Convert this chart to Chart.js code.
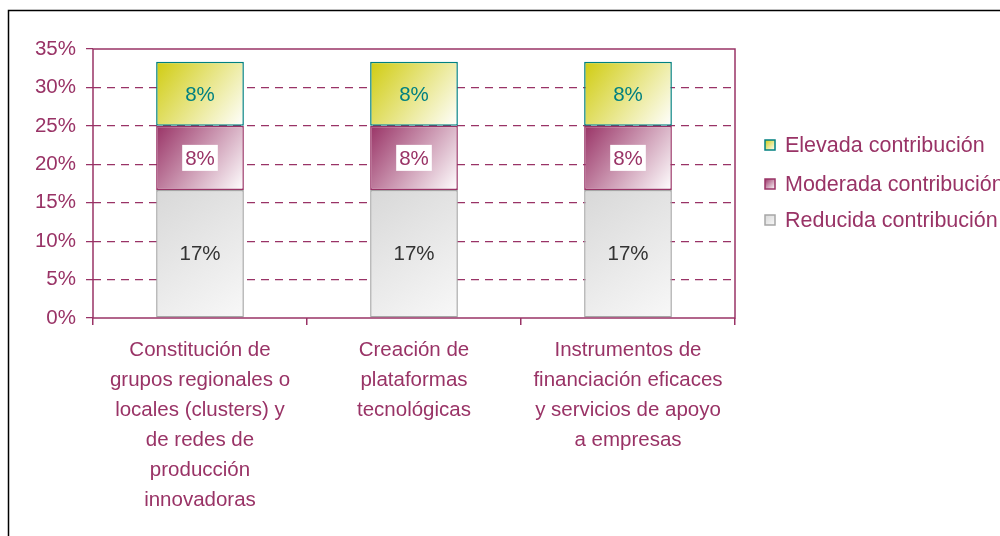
<!DOCTYPE html>
<html>
<head>
<meta charset="utf-8">
<script src="https://cdn.jsdelivr.net/npm/chart.js@4/dist/chart.umd.min.js"></script>
<style>
  html, body { margin: 0; padding: 0; background: #fff; }
  #wrap { width: 1000px; height: 536px; position: relative; }
</style>
</head>
<body>
<div id="wrap"><canvas id="chart" width="1000" height="536"></canvas></div>
<script>
// datos
const categorias = [
    ['Constitución de', 'grupos regionales o', 'locales (clusters) y', 'de redes de', 'producción', 'innovadoras'],
    ['Creación de', 'plataformas', 'tecnológicas'],
    ['Instrumentos de', 'financiación eficaces', 'y servicios de apoyo', 'a empresas']
];
const reducida = [16.67, 16.67, 16.67];
const moderada = [8.33, 8.33, 8.33];
const elevada = [8.33, 8.33, 8.33];
const etiquetasReducida = ['17%', '17%', '17%'];
const etiquetasModerada = ['8%', '8%', '8%'];
const etiquetasElevada = ['8%', '8%', '8%'];
const yTicks = [0, 5, 10, 15, 20, 25, 30, 35];

const PLUM = '#993366';
const TEAL = '#008080';
const FONT = '"Liberation Sans", Arial, sans-serif';
const FS = 20.5;
const BAR_PCT = 0.41;

// degradado diagonal por segmento
function segGradient(from, to) {
    return (c) => {
        const chart = c.chart;
        if (!chart.chartArea || c.dataIndex === undefined) return from;
        const xs = chart.scales.x, ys = chart.scales.y;
        const cx = xs.getPixelForValue(c.dataIndex);
        const half = (xs.width / categorias.length) * BAR_PCT / 2;
        let base = 0;
        for (let i = 0; i < c.datasetIndex; i++) base += chart.data.datasets[i].data[c.dataIndex];
        const top = ys.getPixelForValue(base + c.raw);
        const bottom = ys.getPixelForValue(base);
        const g = chart.ctx.createLinearGradient(cx - half, top, cx + half, bottom);
        g.addColorStop(0, from);
        g.addColorStop(1, to);
        return g;
    };
}

const series = [
    { label: 'Reducida contribución', data: reducida, texts: etiquetasReducida, from: '#d8d8d8', to: '#f8f8f8', border: '#a6a6a6', textColor: '#333333', boxed: false },
    { label: 'Moderada contribución', data: moderada, texts: etiquetasModerada, from: '#993366', to: '#ffffff', border: PLUM, textColor: PLUM, boxed: true },
    { label: 'Elevada contribución', data: elevada, texts: etiquetasElevada, from: '#d0cc10', to: '#ffffff', border: TEAL, textColor: TEAL, boxed: false }
];

const framePlugin = {
    id: 'frame',
    beforeDraw(chart) {
        const ctx = chart.ctx;
        ctx.save();
        ctx.strokeStyle = '#000';
        ctx.lineWidth = 1.5;
        ctx.strokeRect(8.5, 10.5, 1200, 600);
        ctx.restore();
    },
    afterDatasetsDraw(chart) {
        const ctx = chart.ctx;
        const a = chart.chartArea;
        ctx.save();
        // borde del área de trazado
        ctx.strokeStyle = PLUM;
        ctx.lineWidth = 1.5;
        ctx.strokeRect(a.left, a.top, a.right - a.left, a.bottom - a.top);

        // etiquetas de datos
        ctx.font = FS + 'px ' + FONT;
        ctx.textAlign = 'center';
        ctx.textBaseline = 'middle';
        chart.data.datasets.forEach((ds, di) => {
            const meta = chart.getDatasetMeta(di);
            meta.data.forEach((bar, i) => {
                const y = (bar.y + bar.base) / 2;
                const txt = series[di].texts[i];
                if (series[di].boxed) {
                    const w = ctx.measureText(txt).width + 6;
                    ctx.fillStyle = '#fff';
                    ctx.fillRect(bar.x - w / 2, y - 13, w, 26);
                }
                ctx.fillStyle = series[di].textColor;
                ctx.fillText(txt, bar.x, y + 1);
            });
        });

        // leyenda
        const items = [series[2], series[1], series[0]];
        const ys = [145, 184, 220];
        ctx.textAlign = 'left';
        ctx.font = '21.5px ' + FONT;
        items.forEach((s, k) => {
            const y = ys[k];
            const g = ctx.createLinearGradient(765, y - 5, 775, y + 5);
            g.addColorStop(0, s.from);
            g.addColorStop(1, s.to);
            ctx.fillStyle = g;
            ctx.fillRect(765, y - 5, 10, 10);
            ctx.strokeStyle = s.border;
            ctx.lineWidth = 1.5;
            ctx.strokeRect(765, y - 5, 10, 10);
            ctx.fillStyle = PLUM;
            ctx.fillText(s.label, 785, y + 1);
        });
        ctx.restore();
    }
};

new Chart(document.getElementById('chart'), {
    type: 'bar',
    data: {
        labels: categorias,
        datasets: series.map(s => ({
            label: s.label,
            data: s.data,
            backgroundColor: segGradient(s.from, s.to),
            borderColor: s.border,
            borderWidth: 1.5,
            borderSkipped: false,
            categoryPercentage: 1,
            barPercentage: BAR_PCT
        }))
    },
    options: {
        responsive: false,
        animation: false,
        layout: { padding: { left: 0, right: 265, top: 49, bottom: 0 } },
        plugins: {
            legend: { display: false },
            tooltip: { enabled: false }
        },
        scales: {
            x: {
                stacked: true,
                afterFit: (s) => { s.height = 218; },
                grid: {
                    offset: true,
                    drawOnChartArea: false,
                    tickLength: 7,
                    color: PLUM,
                    lineWidth: 1.5
                },
                border: { display: false },
                ticks: {
                    color: PLUM,
                    font: { family: FONT, size: FS, lineHeight: 1.47 },
                    maxRotation: 0,
                    autoSkip: false,
                    padding: 10
                }
            },
            y: {
                stacked: true,
                min: 0,
                max: 35,
                afterFit: (s) => { s.width = 93; },
                afterBuildTicks: (s) => { s.ticks = yTicks.map(v => ({ value: v })); },
                grid: {
                    color: (c) => (c.tick && (c.tick.value === 0 || c.tick.value === 35)) ? 'rgba(0,0,0,0)' : PLUM,
                    tickColor: PLUM,
                    lineWidth: 1.2,
                    tickLength: 7,
                    tickBorderDash: [1, 0]
                },
                border: { display: false, dash: [8, 6] },
                ticks: {
                    color: PLUM,
                    font: { family: FONT, size: FS },
                    padding: 10,
                    callback: (v) => v + '%'
                }
            }
        }
    },
    plugins: [framePlugin]
});
</script>
</body>
</html>
